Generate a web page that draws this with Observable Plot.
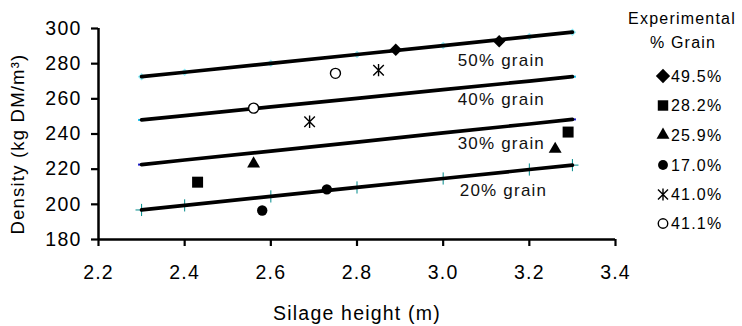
<!DOCTYPE html>
<html><head><meta charset="utf-8">
<script src="https://cdn.jsdelivr.net/npm/d3@7"></script>
<script src="https://cdn.jsdelivr.net/npm/@observablehq/plot@0.6"></script>
<style>
body{margin:0;background:#fff;}
#wrap{position:relative;width:742px;height:326px;font-family:"Liberation Sans",Arial,sans-serif;}
#wrap svg text{letter-spacing:1.2px;}
#legend{position:absolute;left:0;top:0;pointer-events:none;}
</style></head><body><div id="wrap"></div>
<script>
// x positions of the computed-grain reference lines and their markers
const lineX = [2.3, 2.4, 2.6, 2.8, 3.0, 3.2, 3.3];
const grain20 = [196.8, 199.4, 204.5, 209.6, 214.7, 219.8, 222.3];
const grain30 = [222.6, 225.2, 230.3, 235.4, 240.6, 245.7, 248.3];
const grain40 = [248.0, 250.5, 255.4, 260.3, 265.2, 270.1, 272.6];
const grain50 = [272.6, 275.1, 280.2, 285.2, 290.3, 295.4, 297.9];
const lineNames = ["20%", "30%", "40%", "50%"];

// line labels
const labelText = ["50% grain", "40% grain", "30% grain", "20% grain"];
const labelX = [3.135, 3.135, 3.135, 3.14];
const labelY = [281.7, 259.4, 234.5, 207.8];

// experimental points
const seriesLabels = ["49.5%", "28.2%", "25.9%", "17.0%", "41.0%", "41.1%"];
const seriesX = [[2.89, 3.13], [2.43, 3.29], [2.56, 3.26], [2.58, 2.73], [2.69, 2.85], [2.56, 2.75]];
const seriesY = [[287.9, 292.8], [212.6, 241.1], [223.1, 231.4], [196.5, 208.5], [247.0, 276.3], [254.7, 274.5]];

const xTicks = [2.2, 2.4, 2.6, 2.8, 3.0, 3.2, 3.4];
const yTicks = [180, 200, 220, 240, 260, 280, 300];

const dash = {draw(ctx, size) { const r = Math.sqrt(size / Math.PI); ctx.moveTo(-r, 0); ctx.lineTo(r, 0); }};
const star = {draw(ctx, size) {
  const r = Math.sqrt(size / Math.PI), d = r * 0.85;
  ctx.moveTo(0, -r); ctx.lineTo(0, r);
  ctx.moveTo(-d, -d); ctx.lineTo(d, d);
  ctx.moveTo(-d, d); ctx.lineTo(d, -d);
}};

const lineData = [grain20, grain30, grain40, grain50].map((ys, k) =>
  lineX.map((x, i) => ({x, y: ys[i], name: lineNames[k]})));
const pts = seriesLabels.map((s, k) => seriesX[k].map((x, i) => ({x, y: seriesY[k][i], s})));
const labels = labelText.map((t, i) => ({t, x: labelX[i], y: labelY[i]}));

const styles = [
  {symbol: "diamond2", r: 5.6, fill: "black", stroke: "none"},
  {symbol: "square", r: 6.2, fill: "black", stroke: "none"},
  {symbol: "triangle", r: 4.8, fill: "black", stroke: "none"},
  {symbol: "circle", r: 5.2, fill: "black", stroke: "none"},
  {symbol: star, r: 6.2, fill: "none", stroke: "black", strokeWidth: 1.4},
  {symbol: "circle", r: 5, fill: "white", stroke: "black", strokeWidth: 1.4}
];
const legendScale = [1.15, 0.95, 1, 0.95, 0.95, 0.95];

const plot = Plot.plot({
  width: 742, height: 326,
  marginLeft: 98, marginRight: 127, marginTop: 28, marginBottom: 87,
  style: {fontFamily: "Liberation Sans, Arial, sans-serif", fontSize: "19.5px", color: "black", background: "white"},
  x: {domain: [2.2, 3.4]},
  y: {domain: [180, 300]},
  marks: [
    // line markers (under the black lines)
    Plot.dot(lineData[0], {x: "x", y: "y", symbol: "plus", r: 4, stroke: "#008b8b", strokeWidth: 1}),
    Plot.dot(lineData[1], {x: "x", y: "y", symbol: dash, r: 3.5, stroke: "#1010c8", strokeWidth: 2}),
    Plot.dot(lineData[2], {x: "x", y: "y", symbol: dash, r: 3.5, stroke: "#10c0f0", strokeWidth: 2}),
    Plot.dot(lineData[3], {x: "x", y: "y", symbol: "diamond2", r: 3.4, fill: "#90ecf8", stroke: "none"}),
    ...lineData.map(d => Plot.line(d, {x: "x", y: "y", stroke: "black", strokeWidth: 3.7})),
    Plot.text(labels, {x: "x", y: "y", text: "t", fontSize: 17, fill: "#111"}),
    ...pts.map((d, k) => Plot.dot(d, {x: "x", y: "y", ...styles[k]})),
    Plot.axisY({ticks: yTicks, tickSize: 7, tickPadding: 10, strokeWidth: 2.2, fontSize: 19.5, label: null}),
    Plot.axisX({ticks: xTicks, tickFormat: d3.format(".1f"), tickSize: 7, tickPadding: 19, strokeWidth: 2.2, fontSize: 19.5, label: null}),
    Plot.ruleY([180], {strokeWidth: 2.5}),
    Plot.ruleX([2.2], {strokeWidth: 2.5}),
    Plot.text(["Silage height (m)"], {frameAnchor: "bottom", lineAnchor: "middle", dy: 74, fontSize: 19.5}),
    Plot.text(["Density (kg DM/m³)"], {frameAnchor: "left", textAnchor: "middle", lineAnchor: "middle", rotate: -90, dx: -80, dy: 10, fontSize: 18.5})
  ]
});
document.getElementById("wrap").appendChild(plot);

// legend
const legendSymbols = [d3.symbolDiamond2, d3.symbolSquare, d3.symbolTriangle, d3.symbolCircle, star, d3.symbolCircle];
const legendRowY = [76, 105.5, 135, 165, 194.5, 223.5];
const lg = d3.select("#wrap").append("svg").attr("id", "legend").attr("width", 742).attr("height", 326)
  .style("font-family", "Liberation Sans, Arial, sans-serif");
lg.append("text").attr("x", 682).attr("y", 18).attr("dy", "0.35em").attr("text-anchor", "middle")
  .attr("font-size", 16).text("Experimental");
lg.append("text").attr("x", 683).attr("y", 42).attr("dy", "0.35em").attr("text-anchor", "middle")
  .attr("font-size", 16).text("% Grain");
seriesLabels.forEach((s, k) => {
  const st = styles[k];
  const size = Math.PI * (st.r * legendScale[k]) ** 2;
  lg.append("path").attr("transform", `translate(663,${legendRowY[k]})`)
    .attr("d", d3.symbol(legendSymbols[k], size)())
    .attr("fill", st.fill).attr("stroke", st.stroke === "none" ? null : st.stroke)
    .attr("stroke-width", st.strokeWidth || null);
  lg.append("text").attr("x", 671).attr("y", legendRowY[k]).attr("dy", "0.35em")
    .attr("font-size", 16).text(s);
});
</script>
</body></html>
